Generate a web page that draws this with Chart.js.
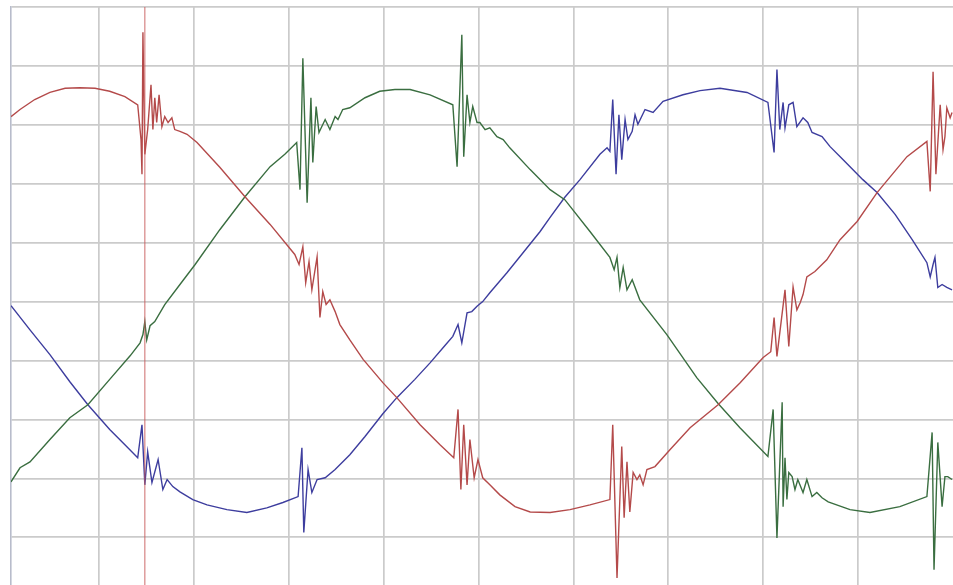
<!DOCTYPE html>
<html>
<head>
<meta charset="utf-8">
<script src="https://cdn.jsdelivr.net/npm/chart.js@4/dist/chart.umd.min.js"></script>
<style>
  html, body { margin: 0; padding: 0; background: #ffffff; overflow: hidden; }
  #wrap { width: 953px; height: 585px; }
</style>
</head>
<body>
<div id="wrap"><canvas id="c" width="953" height="585"></canvas></div>
<script>
// time in ms (2 ms per grid division), current in A (10 A per division)
const xTicks = [2, 4, 6, 8, 10, 12, 14, 16, 18];
const yTicks = [-40, -30, -20, -10, 0, 10, 20, 30, 40, 50];
const cursorT = 2.97;

const redX = [0.15,0.34,0.65,0.97,1.29,1.60,1.92,2.23,2.55,2.82,2.89,2.91,2.93,2.97,3.03,3.10,3.14,3.18,3.22,3.27,3.33,3.39,3.46,3.54,3.60,3.71,3.86,4.07,4.55,5.08,5.61,6.13,6.22,6.30,6.36,6.43,6.49,6.60,6.66,6.72,6.79,6.87,6.98,7.08,7.29,7.57,7.99,8.28,8.77,9.19,9.48,9.57,9.63,9.69,9.76,9.82,9.91,9.99,10.09,10.24,10.45,10.77,11.09,11.51,11.93,12.35,12.77,12.83,12.92,13.02,13.07,13.13,13.19,13.26,13.34,13.40,13.47,13.55,13.72,14.04,14.46,15.05,15.51,16.00,16.16,16.23,16.29,16.46,16.54,16.63,16.71,16.78,16.84,16.92,17.09,17.34,17.62,17.98,18.40,19.03,19.45,19.52,19.58,19.64,19.73,19.79,19.83,19.87,19.94,19.98];
const redY = [31.4,32.6,34.3,35.5,36.2,36.3,36.2,35.7,34.8,33.4,27.5,21.6,45.7,25.0,29.2,36.8,29.2,34.6,30.4,35.1,29.7,31.4,30.4,31.2,29.2,28.9,28.4,27.0,22.8,17.8,13.1,8.0,6.3,9.3,3.2,6.8,2.0,7.6,-2.7,1.7,-0.5,0.3,-1.7,-3.9,-6.5,-9.8,-13.8,-16.3,-20.9,-24.3,-26.5,-18.3,-31.9,-20.9,-31.1,-23.4,-29.9,-26.8,-29.9,-31.1,-32.8,-34.8,-35.7,-35.8,-35.3,-34.5,-33.6,-20.9,-46.9,-24.6,-36.7,-27.2,-35.7,-29.0,-30.2,-29.4,-31.1,-28.5,-28.0,-25.1,-21.4,-17.5,-13.8,-9.5,-8.5,-2.7,-9.3,2.0,-7.6,2.5,-1.4,-0.2,1.2,4.2,5.1,7.1,10.5,13.6,18.5,24.6,27.2,18.7,39.0,21.6,33.4,25.8,28.0,32.9,31.2,32.1];

const greenX = [0.15,0.34,0.55,0.97,1.39,1.77,2.23,2.66,2.87,2.93,2.97,3.01,3.08,3.18,3.39,3.71,4.03,4.55,5.08,5.61,5.92,6.17,6.24,6.30,6.39,6.47,6.51,6.58,6.64,6.77,6.87,6.98,7.04,7.14,7.29,7.61,7.92,8.24,8.56,8.98,9.46,9.55,9.65,9.69,9.76,9.82,9.88,9.97,10.03,10.14,10.24,10.39,10.52,10.66,11.09,11.51,11.82,12.35,12.77,12.86,12.92,12.98,13.05,13.13,13.24,13.40,13.97,14.60,15.05,15.51,16.10,16.21,16.29,16.40,16.42,16.46,16.50,16.54,16.61,16.67,16.73,16.84,16.92,17.03,17.13,17.24,17.37,17.83,18.25,18.88,19.45,19.56,19.60,19.68,19.77,19.83,19.89,19.98];
const greenY = [-30.6,-28.2,-27.2,-23.4,-19.7,-17.5,-13.2,-9.2,-7.0,-5.6,-3.4,-6.5,-4.1,-3.4,-0.5,2.9,6.3,12.2,17.8,22.9,25.0,27.0,19.0,41.3,16.8,34.6,23.6,33.1,28.7,30.9,29.2,31.4,30.9,32.6,32.9,34.6,35.7,36.0,36.0,35.1,33.4,22.9,45.3,24.6,35.1,30.4,33.1,30.4,30.4,29.2,29.5,28.0,27.5,26.1,22.4,19.0,17.3,11.9,7.5,5.4,7.5,2.4,5.8,2.0,3.7,0.3,-5.6,-12.9,-17.3,-21.4,-26.3,-18.3,-40.1,-17.1,-34.8,-26.5,-33.6,-29.0,-29.7,-31.9,-30.2,-32.4,-30.2,-33.1,-32.4,-33.3,-34.0,-35.3,-35.8,-34.8,-33.1,-22.2,-45.5,-23.9,-34.8,-29.7,-29.7,-30.2];

const blueX = [0.15,0.55,0.97,1.39,1.77,2.23,2.55,2.82,2.91,2.97,3.03,3.12,3.25,3.35,3.44,3.56,3.71,3.98,4.28,4.70,5.12,5.54,5.88,6.20,6.28,6.32,6.41,6.49,6.60,6.77,6.98,7.29,7.61,7.99,8.28,8.66,8.98,9.29,9.46,9.57,9.65,9.76,9.86,9.97,10.09,10.24,10.60,10.94,11.30,11.51,11.82,12.14,12.56,12.71,12.77,12.83,12.90,12.96,13.02,13.09,13.15,13.24,13.30,13.36,13.51,13.68,13.89,14.31,14.67,15.09,15.66,16.10,16.23,16.29,16.35,16.42,16.46,16.54,16.63,16.71,16.84,16.94,17.03,17.24,17.41,17.68,18.10,18.40,18.78,19.14,19.45,19.52,19.58,19.62,19.68,19.77,19.87,19.98];
const blueY = [-0.7,-4.8,-9.0,-13.6,-17.5,-21.7,-24.3,-26.5,-20.9,-31.1,-25.5,-30.7,-26.8,-31.9,-30.2,-31.4,-32.3,-33.6,-34.5,-35.3,-35.8,-35.0,-34.1,-33.1,-24.8,-39.2,-28.5,-32.4,-30.2,-29.9,-28.5,-26.0,-22.9,-19.0,-16.3,-13.2,-10.4,-7.5,-5.9,-3.9,-7.0,-1.9,-1.7,-0.8,0.0,1.5,4.9,8.3,11.9,14.3,17.7,20.7,25.0,26.1,25.5,34.3,21.6,31.7,24.1,30.9,27.5,28.9,31.7,30.1,32.6,32.1,34.0,35.1,35.8,36.2,35.5,33.8,25.3,39.4,29.2,33.8,29.5,33.4,33.8,29.7,31.2,30.4,28.7,28.0,26.3,24.1,20.7,18.5,14.8,10.5,6.6,4.2,6.3,7.5,2.4,2.9,2.4,2.0];

const X_MIN = 0.15, X_MAX = 20.0, Y_MIN = -48.1, Y_MAX = 50;

function pts(xs, ys) { return xs.map((x, i) => ({ x: x, y: ys[i] })); }

const lineStyle = { borderWidth: 1.4, pointRadius: 0, tension: 0, fill: false };

new Chart(document.getElementById('c'), {
  type: 'line',
  data: {
    datasets: [
      Object.assign({ label: 'cursor', data: [{ x: cursorT, y: Y_MIN }, { x: cursorT, y: Y_MAX }], borderColor: 'rgba(200,90,90,0.75)' }, lineStyle, { borderWidth: 1.2 }),
      Object.assign({ label: 'Phase A', data: pts(redX, redY), borderColor: '#b44a4a' }, lineStyle),
      Object.assign({ label: 'Phase B', data: pts(greenX, greenY), borderColor: '#3a6e40' }, lineStyle),
      Object.assign({ label: 'Phase C', data: pts(blueX, blueY), borderColor: '#3d3d9e' }, lineStyle)
    ]
  },
  options: {
    responsive: false,
    animation: false,
    devicePixelRatio: 1,
    layout: { padding: { left: 11, top: 7, right: 0, bottom: 0 } },
    plugins: { legend: { display: false }, tooltip: { enabled: false } },
    scales: {
      x: {
        type: 'linear', min: X_MIN, max: X_MAX,
        afterBuildTicks: (s) => { s.ticks = xTicks.map(v => ({ value: v })); },
        ticks: { display: false },
        grid: { color: '#cbcbcb', lineWidth: 1.7, drawTicks: false },
        border: { display: false }
      },
      y: {
        type: 'linear', min: Y_MIN, max: Y_MAX,
        afterBuildTicks: (s) => { s.ticks = yTicks.map(v => ({ value: v })); },
        ticks: { display: false },
        grid: { color: '#cbcbcb', lineWidth: 1.7, drawTicks: false },
        border: { display: true, color: '#b8bccb', width: 1.6 }
      }
    }
  }
});
</script>
</body>
</html>
